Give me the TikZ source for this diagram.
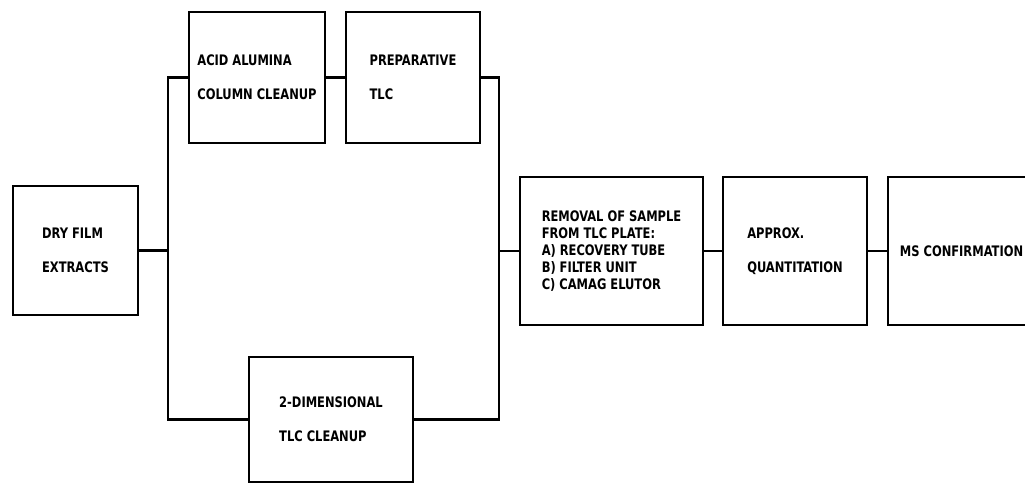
\documentclass[tikz,border=0pt]{standalone}
\usepackage{fontspec}
\newfontfamily\flowfont[FakeStretch=0.88]{DejaVu Sans Condensed}
\usetikzlibrary{positioning}

\tikzset{
  stagebox/.style={draw,line width=2.8pt,inner sep=0pt,align=left,
    font=\flowfont\bfseries\fontsize{14.5}{34}\selectfont},
  listbox/.style={stagebox,font=\flowfont\bfseries\fontsize{14.5}{17}\selectfont},
  link/.style={line width=2.8pt}
}

\begin{document}
\begin{tikzpicture}[x=1pt,y=-1pt]
  \clip (0,0) rectangle (1025,483);

  % left column and the two cleanup routes
  \node[stagebox,minimum width=125pt,minimum height=129pt] (dry) at (75.5,250.5) {DRY FILM\\EXTRACTS};
  \node[stagebox,minimum width=136pt,minimum height=131pt] (acid) at (257,77.5) {ACID ALUMINA\\COLUMN CLEANUP};
  \node[stagebox,minimum width=134pt,minimum height=131pt] (prep) at (413,77.5) {PREPARATIVE\\TLC};
  \node[stagebox,minimum width=164pt,minimum height=125pt] (twod) at (331,419.5) {2-DIMENSIONAL\\TLC CLEANUP};

  % main line to the right
  \node[listbox,minimum width=183pt,minimum height=148pt] (removal) at (611.5,251)
    {REMOVAL OF SAMPLE\\FROM TLC PLATE:\\A) RECOVERY TUBE\\B) FILTER UNIT\\C) CAMAG ELUTOR};
  \node[stagebox,minimum width=144pt,minimum height=148pt] (approx) at (795,251) {APPROX.\\QUANTITATION};
  \node[stagebox,minimum width=147pt,minimum height=148pt] (ms) at (961.5,251) {MS CONFIRMATION};

  \coordinate (ltop) at (168,77.5);
  \coordinate (lbot) at (168,419.5);
  \coordinate (rtop) at (499,77.5);
  \coordinate (rbot) at (499,419.5);

  \draw[link] (acid) -- (ltop) -- (lbot) -- (twod);
  \draw[link] (prep) -- (rtop) -- (rbot) -- (twod);
  \draw[link] (dry) -- (dry -| ltop);
  \draw[link] (acid) -- (prep);
  \draw[link] (removal) -- (removal -| rtop);
  \draw[link] (removal) -- (approx);
  \draw[link] (approx) -- (ms);
\end{tikzpicture}
\end{document}
